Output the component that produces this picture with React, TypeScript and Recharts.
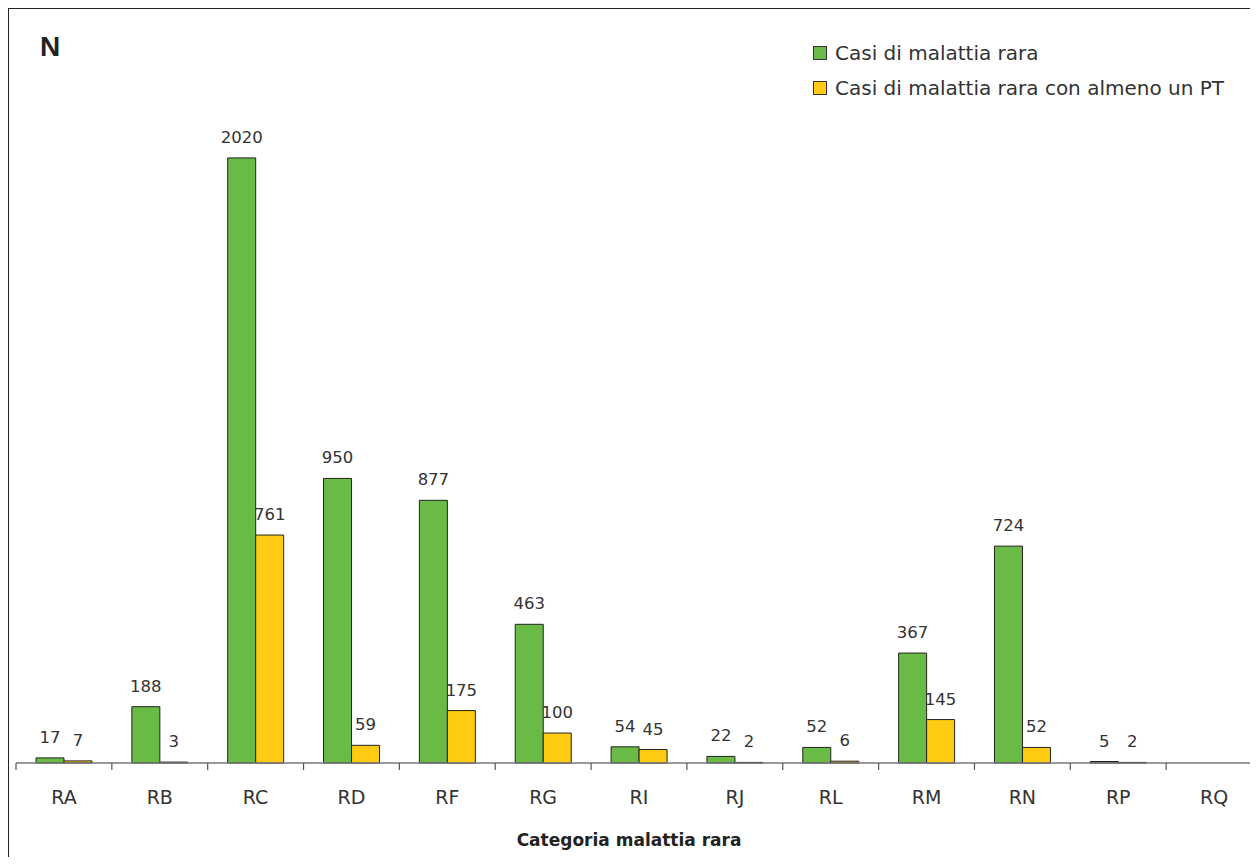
import { BarChart, Bar, XAxis, YAxis, LabelList, Label } from 'recharts';

const categories = ['RA', 'RB', 'RC', 'RD', 'RF', 'RG', 'RI', 'RJ', 'RL', 'RM', 'RN', 'RP', 'RQ'];
const casiMalattia = [17, 188, 2020, 950, 877, 463, 54, 22, 52, 367, 724, 5, null];
const casiConPT = [7, 3, 761, 59, 175, 100, 45, 2, 6, 145, 52, 2, null];

const SERIES = [
  { key: 'casi', name: 'Casi di malattia rara', color: '#6ABB45' },
  { key: 'pt', name: 'Casi di malattia rara con almeno un PT', color: '#FFCB12' },
];

const FONT = '"DejaVu Sans", sans-serif';
const TEXT = '#333';

const CHART_W = 1262;
const CHART_H = 865;
const MARGIN = { top: 104, right: 0, bottom: 22, left: 16 };
const AXIS_H = 80;
const BAND = (CHART_W - MARGIN.left - MARGIN.right) / categories.length;

const data = categories.map((cat, i) => ({
  cat,
  casi: casiMalattia[i],
  pt: casiConPT[i],
}));

// category label under the band, with the tick mark on the band's left edge
function CategoryTick({ x, y, payload }: any) {
  const axisY = y - 8;
  return (
    <g>
      <line x1={x - BAND / 2} y1={axisY} x2={x - BAND / 2} y2={axisY + 7} stroke="#555" strokeWidth={1.2} />
      <text x={x} y={axisY + 41} textAnchor="middle" fontFamily={FONT} fontSize={19} fill={TEXT}>
        {payload.value}
      </text>
    </g>
  );
}

function LegendBox() {
  return (
    <div
      style={{
        position: 'absolute',
        left: 813,
        top: 35,
        fontFamily: FONT,
        fontSize: 20,
        color: TEXT,
        whiteSpace: 'nowrap',
      }}
    >
      {SERIES.map((s) => (
        <div key={s.key} style={{ display: 'flex', alignItems: 'center', height: 35 }}>
          <span
            style={{
              width: 12,
              height: 12,
              background: s.color,
              border: '1px solid #333',
              marginRight: 8,
            }}
          />
          {s.name}
        </div>
      ))}
    </div>
  );
}

export default function App() {
  return (
    <div
      style={{
        position: 'relative',
        margin: -8,
        width: 1258,
        height: 865,
        overflow: 'hidden',
        background: '#fff',
      }}
    >
      {/* frame: only top and left edges fall inside the page */}
      <div
        style={{
          position: 'absolute',
          left: 7,
          top: 7,
          right: -10,
          bottom: -10,
          borderTop: '2px solid #222',
          borderLeft: '2px solid #222',
        }}
      />
      <div
        style={{
          position: 'absolute',
          left: 40,
          top: 31,
          fontFamily: '"Liberation Sans", sans-serif',
          fontWeight: 'bold',
          fontSize: 28,
          color: '#222',
        }}
      >
        N
      </div>
      <LegendBox />
      <div style={{ position: 'absolute', left: 0, top: 0 }}>
        <BarChart
          width={CHART_W}
          height={CHART_H}
          data={data}
          margin={MARGIN}
          barCategoryGap={20}
          barGap={0}
        >
          <XAxis
            dataKey="cat"
            height={AXIS_H}
            interval={0}
            tickLine={false}
            axisLine={{ stroke: '#777', strokeWidth: 1.5 }}
            tick={<CategoryTick />}
          >
            <Label
              content={({ viewBox }: any) => (
                <text
                  x={viewBox.x + viewBox.width / 2 - 10}
                  y={viewBox.y + 83}
                  textAnchor="middle"
                  fontFamily={FONT}
                  fontWeight="bold"
                  fontSize={17}
                  fill="#222"
                >
                  Categoria malattia rara
                </text>
              )}
            />
          </XAxis>
          <YAxis hide domain={[0, 2200]} />
          {SERIES.map((s) => (
            <Bar
              key={s.key}
              dataKey={s.key}
              name={s.name}
              fill={s.color}
              stroke="#222"
              strokeWidth={1}
              isAnimationActive={false}
            >
              <LabelList
                dataKey={s.key}
                position="top"
                offset={15}
                fontFamily={FONT}
                fontSize={16.5}
                fill={TEXT}
              />
            </Bar>
          ))}
        </BarChart>
      </div>
    </div>
  );
}
